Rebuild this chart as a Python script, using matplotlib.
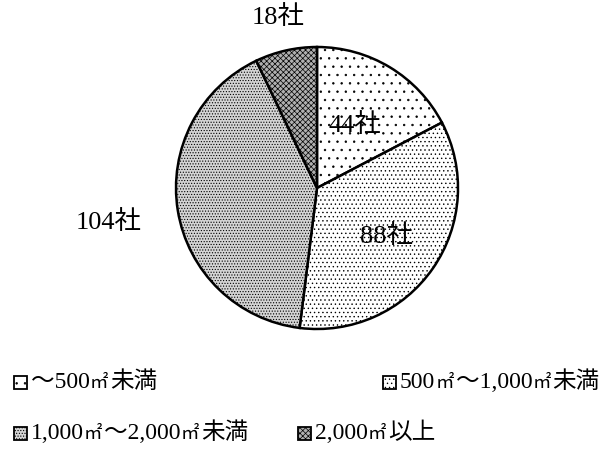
import numpy as np
import matplotlib
matplotlib.use("Agg")
import matplotlib.pyplot as plt
from matplotlib.patches import Rectangle

categories = ["～500㎡未満", "500㎡～1,000㎡未満", "1,000㎡～2,000㎡未満", "2,000㎡以上"]
values = [44, 88, 104, 18]
labels = ["44社", "88社", "104社", "18社"]

SERIF = ['Liberation Serif', 'Noto Sans CJK JP']
plt.rcParams['font.family'] = SERIF
plt.rcParams['hatch.color'] = 'black'
plt.rcParams['hatch.linewidth'] = 0.5

W, H = 606, 469
fig = plt.figure(figsize=(W/100, H/100), dpi=100)
cx, cy, r = 317, 188, 141
ax = fig.add_axes([(cx-r)/W, (H-cy-r)/H, 2*r/W, 2*r/H])

faces = ['white', 'white', '#d4d4d4', '#b0b0b0']
hatches = ['..', '....', '......', 'xxxxxx']
wedges, _ = ax.pie(values, startangle=90, counterclock=False, radius=1,
                   wedgeprops=dict(edgecolor='black', linewidth=1.8))
for w, fc, h in zip(wedges, faces, hatches):
    w.set_facecolor(fc)
    w.set_hatch(h)

dists = [0.52, 0.6, 1.5, 1.24]
for w, lab, d in zip(wedges, labels, dists):
    ang = np.deg2rad((w.theta1 + w.theta2) / 2)
    ax.text(d*np.cos(ang), d*np.sin(ang), lab, ha='center', va='center', fontsize=19)
ax.set_xlim(-1, 1)
ax.set_ylim(-1, 1)
ax.set_aspect('equal')
ax.axis('off')

renderer = fig.canvas.get_renderer()

def draw_runs(x, y, text, fs):
    # the ㎡ sign is drawn a bit smaller so it stays compact, as in the reference
    parts = []
    buf = ''
    for ch in text:
        if ch == '㎡':
            if buf:
                parts.append((buf, fs))
            parts.append((ch, fs * 0.78))
            buf = ''
        else:
            buf += ch
    if buf:
        parts.append((buf, fs))
    for s, size in parts:
        t = fig.text(x/W, (H-y-6)/H, s, ha='left', va='baseline', fontsize=size)
        bb = t.get_window_extent(renderer)
        x += bb.width + (2 if size < fs else 0)

leg_pos = [(14, 382), (383, 382), (14, 433), (298, 433)]
for (x, y), cat, fc, h in zip(leg_pos, categories, faces, hatches):
    s = 13
    rect = Rectangle((x/W, (H-y-s/2)/H), s/W, s/H, transform=fig.transFigure,
                     facecolor=fc, edgecolor='black', hatch=h, linewidth=1.3)
    fig.patches.append(rect)
    draw_runs(x+s+4, y, cat, 17)

fig.savefig('out.png', dpi=100)
